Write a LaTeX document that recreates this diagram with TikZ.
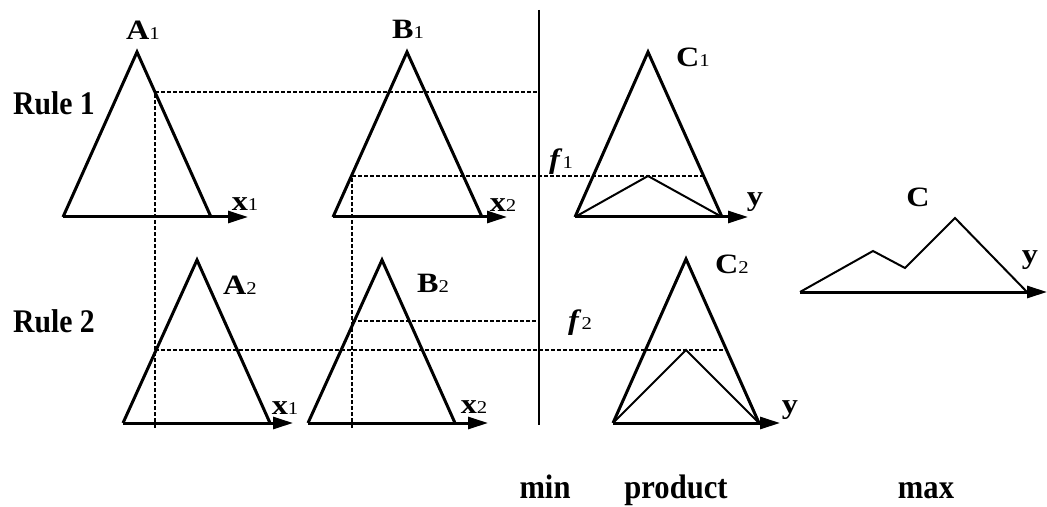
\documentclass[tikz,border=0pt]{standalone}
\usepackage{fontspec}
\setmainfont{Liberation Serif}
\newfontfamily\tallfont{Liberation Serif}[FakeStretch=0.9]
\newfontfamily\widefont{Liberation Serif}[FakeStretch=1.15]
\usepackage{tikz}
\usetikzlibrary{arrows.meta, calc}
\tikzset{
  mf/.style={line width=1.5pt, line join=miter},
  axis/.style={-{Triangle[length=10pt, width=6pt]}, line width=1.5pt},
  cut/.style={line width=0.75pt, dash pattern=on 2pt off 1pt},
  outline/.style={line width=1pt, line join=miter},
  setlbl/.style={font=\widefont\bfseries\fontsize{14pt}{14pt}\selectfont},
  rulelbl/.style={font=\tallfont\bfseries\fontsize{16.5pt}{16.5pt}\selectfont},
  oplbl/.style={font=\tallfont\bfseries\fontsize{17pt}{17pt}\selectfont}
}
\newcommand{\lsub}[2]{#1{\mdseries\fontsize{9pt}{9pt}\selectfont #2}}

\begin{document}
\begin{tikzpicture}[x=0.5pt, y=-0.5pt]
  \useasboundingbox (0,0) rectangle (1047,507);

  % Membership triangles with their axes
  \foreach \n/\tx/\ty/\lx/\rx/\by/\ex in {A1/137/52/63/211/217/248, B1/407/52/333/482/217/507,
      C1/648/52/575/722/217/748, A2/197/260/123/270/423/293,
      B2/382/260/308/455/423/488, C2/686/259/613/759/423/780}{
    \coordinate (\n t) at (\tx,\ty);
    \coordinate (\n l) at (\lx,\by);
    \coordinate (\n r) at (\rx,\by);
    \coordinate (\n e) at (\ex,\by);
    \draw[mf] (\n l) -- (\n t) -- (\n r);
    \draw[axis] (\n l) -- (\n e);
  }

  % Min operator line
  \coordinate (mintop) at (539,10);
  \coordinate (minbot) at (539,425);
  \draw[line width=1pt] (mintop) -- (minbot);

  % Fuzzified inputs
  \coordinate (u1) at (155,92);
  \coordinate (u1d) at (155,428);
  \coordinate (u1m) at (539,92);
  \coordinate (v1) at (352,176);
  \coordinate (v1d) at (352,428);
  \coordinate (f1c) at (703,176);
  \coordinate (u2) at (155,350);
  \coordinate (f2c) at (725,350);
  \coordinate (v2) at (352,321);
  \coordinate (v2m) at (539,321);
  \draw[cut] (u1d) -- (u1) -- (u1m);
  \draw[cut] (v1d) -- (v1) -- (f1c);
  \draw[cut] (u2) -- (f2c);
  \draw[cut] (v2) -- (v2m);

  % Scaled consequents
  \coordinate (C1p) at (648,176);
  \coordinate (C2p) at (686,350);
  \draw[outline] (C1l) -- (C1p) -- (C1r);
  \draw[outline] (C2l) -- (C2p) -- (C2r);

  % Aggregated output
  \coordinate (Cl) at (800,292);
  \coordinate (Ce) at (1047,292);
  \coordinate (Cp1) at (873,251);
  \coordinate (Cp2) at (905,268);
  \coordinate (Cp3) at (955,218);
  \coordinate (Cr) at (1027,292);
  \draw[outline] (Cl) -- (Cp1) -- (Cp2) -- (Cp3) -- (Cr);
  \draw[axis] (Cl) -- (Ce);

  % Set labels
  \node[setlbl] (labA1) at (143,30) {\lsub{A}{1}};
  \node[setlbl] (labB1) at (408,29) {\lsub{B}{1}};
  \node[setlbl] (labC1) at (693,57) {\lsub{C}{1}};
  \node[setlbl] (labA2) at (240,285) {\lsub{A}{2}};
  \node[setlbl] (labB2) at (433,283) {\lsub{B}{2}};
  \node[setlbl] (labC2) at (732,264) {\lsub{C}{2}};
  \node[setlbl] (labC) at (918,197) {C};

  % Axis labels
  \node[setlbl] (labx11) at (245,204) {\lsub{x}{1}};
  \node[setlbl] (labx21) at (503,205) {\lsub{x}{2}};
  \node[setlbl] (laby1) at (755,202) {y};
  \node[setlbl] (labx12) at (285,408) {\lsub{x}{1}};
  \node[setlbl] (labx22) at (474,407) {\lsub{x}{2}};
  \node[setlbl] (laby2) at (790,410) {y};
  \node[setlbl] (labyC) at (1030,260) {y};

  % Firing strengths
  \node[setlbl] (labf1) at (561,162) {\lsub{\textit{f}}{1}};
  \node[setlbl] (labf2) at (580,323) {\lsub{\textit{f}}{2}};

  % Rule names and operators
  \node[rulelbl, anchor=base west] (rule1) at (6,115) {Rule 1};
  \node[rulelbl, anchor=base west] (rule2) at (6,332) {Rule 2};
  \node[oplbl, anchor=base] (opmin) at (545,498) {min};
  \node[oplbl, anchor=base] (opprod) at (676,498) {product};
  \node[oplbl, anchor=base] (opmax) at (926,498) {max};
\end{tikzpicture}
\end{document}
